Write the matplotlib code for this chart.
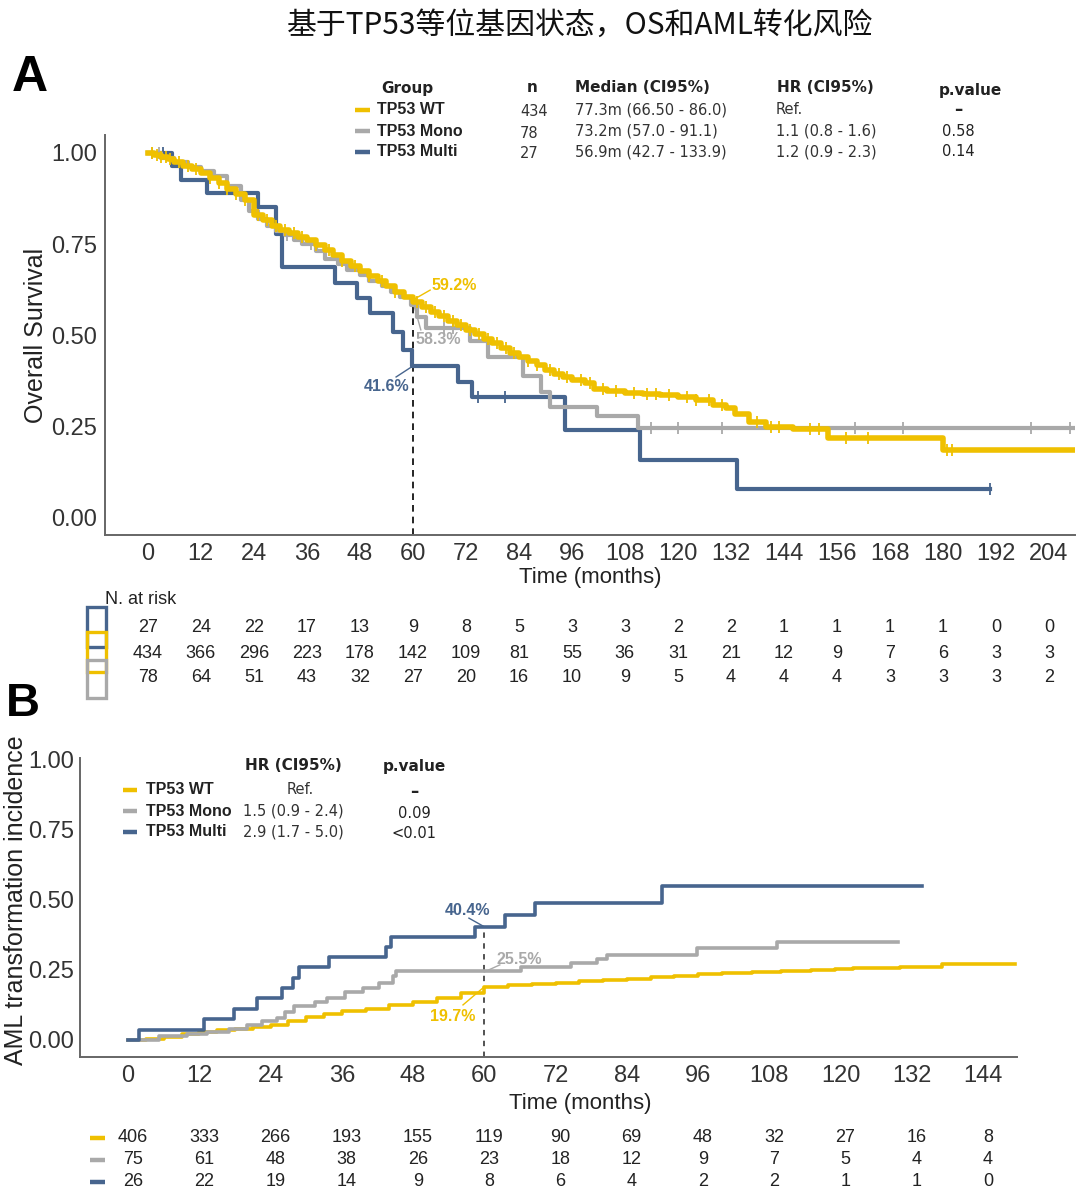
import numpy as np
import matplotlib
matplotlib.use("Agg")
import matplotlib.pyplot as plt
from matplotlib import transforms
from matplotlib.patches import Rectangle

W, H = 1080, 1201
YEL, GRY, BLU = '#EFC000', '#A9A9A9', '#47658E'
SANS = 'Liberation Sans'

title = '基于TP53等位基因状态，OS和AML转化风险'
groups = ['TP53 WT', 'TP53 Mono', 'TP53 Multi']

# ---------- panel A : overall survival (Kaplan-Meier)
os_wt_t = [0, 1.5, 3, 4.5, 6, 8, 10, 12, 14, 16, 18, 20, 22, 24, 26, 28, 30, 32, 34, 36,
           38, 40, 42, 44, 46, 48, 50, 52, 54, 56, 58, 60, 62, 64, 66, 68, 70, 72, 74, 76,
           78, 80, 82, 84, 86, 88, 90, 92, 94, 96, 99, 101, 104, 108, 112, 116, 120, 124,
           128, 131, 133, 136, 140, 146, 154, 165, 172, 180, 210]
os_wt_s = [1.0, .995, .99, .982, .975, .965, .955, .945, .932, .918, .902, .886, .87, .83,
           .815, .80, .79, .78, .77, .76, .748, .735, .72, .705, .69, .675, .662, .648, .635,
           .62, .606, .592, .578, .565, .553, .54, .528, .515, .503, .49, .478, .465, .452,
           .44, .43, .418, .405, .395, .385, .378, .37, .352, .347, .343, .339, .336, .332,
           .322, .31, .30, .285, .262, .25, .244, .22, .219, .218, .186, .186]
os_mono_t = [0, 3, 6, 9, 12, 15, 18, 21, 23, 25, 27, 29, 31, 33, 35, 38, 40, 43, 45, 48, 50,
             53, 55, 57, 59.5, 61, 63, 73, 77, 85, 89, 91, 101.6, 111, 210]
os_mono_s = [1.0, .987, .975, .962, .95, .937, .91, .87, .84, .82, .80, .787, .775, .762,
             .75, .73, .71, .695, .68, .665, .65, .635, .62, .605, .583, .55, .52, .485, .44,
             .39, .345, .305, .28, .245, .245]
os_multi_t = [0, 5.4, 7.6, 13.3, 25, 29, 30.3, 42.4, 47.3, 50.3, 55.5, 57.8, 59.7, 70.2,
              73.4, 94.5, 111.5, 133.4, 190.6]
os_multi_s = [1.0, .963, .926, .889, .852, .778, .688, .644, .603, .562, .51, .46, .416,
              .372, .33, .241, .159, .079, .079]

cens_wt = [1, 2, 3, 4, 5, 7, 9, 11, 14, 16, 18, 20, 22, 25, 27, 29, 31, 33, 35, 38, 41, 44,
           47, 50, 53, 56, 61, 63, 65, 67, 69, 71, 73, 75, 77, 79, 81, 83, 86, 88, 91, 93,
           95, 98, 100, 103, 106, 110, 113, 115, 118, 122, 124, 127, 130, 138, 141, 143,
           150, 152, 158, 163, 181, 182]
cens_mono = [1, 2.5, 31.5, 37, 67, 69, 114, 120, 130, 160, 171, 200, 208.7]
cens_multi = [3.5, 74.7, 80.8, 91, 190.6]

risk_times_a = list(range(0, 205, 12))
risk_multi_a = [27, 24, 22, 17, 13, 9, 8, 5, 3, 3, 2, 2, 1, 1, 1, 1, 0, 0]
risk_wt_a = [434, 366, 296, 223, 178, 142, 109, 81, 55, 36, 31, 21, 12, 9, 7, 6, 3, 3]
risk_mono_a = [78, 64, 51, 43, 32, 27, 20, 16, 10, 9, 5, 4, 4, 4, 3, 3, 3, 2]

tab_a_n = ['434', '78', '27']
tab_a_median = ['77.3m (66.50 - 86.0)', '73.2m (57.0 - 91.1)', '56.9m (42.7 - 133.9)']
tab_a_hr = ['Ref.', '1.1 (0.8 - 1.6)', '1.2 (0.9 - 2.3)']
tab_a_p = ['–', '0.58', '0.14']

# ---------- panel B : cumulative incidence of AML transformation
cif_wt_t = [0, 3, 6, 9, 12, 15, 18, 21, 24, 27, 30, 33, 36, 40, 44, 48, 52, 56, 60, 64, 68,
            72, 76, 80, 84, 88, 92, 96, 100, 105, 110, 115, 119, 122, 130, 137, 149.3]
cif_wt_c = [0, .005, .012, .02, .027, .034, .04, .047, .055, .068, .082, .093, .102, .112,
            .124, .137, .151, .168, .19, .196, .201, .205, .209, .213, .217, .224, .23, .236,
            .24, .243, .246, .249, .252, .258, .261, .271, .271]
cif_mono_t = [0, 5.2, 10, 13.3, 17, 20, 22.5, 25, 26.5, 28, 31.4, 33.5, 36.5, 39.5, 42.2,
              44.6, 45.2, 66.2, 74.6, 79, 80.6, 95.8, 109.3, 129.7]
cif_mono_c = [0, .013, .02, .027, .04, .053, .067, .08, .1, .12, .135, .148, .17, .187, .205,
              .228, .245, .26, .275, .29, .305, .33, .35, .35]
cif_multi_t = [0, 1.9, 12.7, 17.8, 21.7, 25.9, 27.8, 28.7, 33.8, 43.4, 44.3, 58.4, 63.5,
               68.6, 89.9, 133.7]
cif_multi_c = [0, .037, .074, .111, .148, .185, .222, .259, .296, .333, .367, .404, .447,
               .49, .55, .55]

risk_times_b = list(range(0, 145, 12))
risk_wt_b = [406, 333, 266, 193, 155, 119, 90, 69, 48, 32, 27, 16, 8]
risk_mono_b = [75, 61, 48, 38, 26, 23, 18, 12, 9, 7, 5, 4, 4]
risk_multi_b = [26, 22, 19, 14, 9, 8, 6, 4, 2, 2, 1, 1, 0]

tab_b_hr = ['Ref.', '1.5 (0.9 - 2.4)', '2.9 (1.7 - 5.0)']
tab_b_p = ['–', '0.09', '<0.01']


def step_at(tt, ss, x):
    i = np.searchsorted(tt, x, side='right') - 1
    return np.asarray(ss)[i]


def px_axes(fig, l, t, r, b):
    return fig.add_axes([l / W, 1 - b / H, (r - l) / W, (b - t) / H])


def style(ax, fs):
    for s in ['top', 'right']:
        ax.spines[s].set_visible(False)
    for s in ['left', 'bottom']:
        ax.spines[s].set_color('#666666')
        ax.spines[s].set_linewidth(1.4)
    ax.tick_params(length=0, labelsize=fs, colors='#333333', pad=6)
    for lab in ax.get_xticklabels() + ax.get_yticklabels():
        lab.set_family(SANS)


fig = plt.figure(figsize=(W / 100, H / 100), dpi=100)
ov = fig.add_axes([0, 0, 1, 1], zorder=5)
ov.set_xlim(0, W)
ov.set_ylim(H, 0)
ov.axis('off')
ov.patch.set_alpha(0)

ov.text(580, 25, title, ha='center', va='center', fontsize=21.5,
        family=['Noto Sans CJK SC', 'DejaVu Sans'], color='#111111')

# ================= panel A
axA = px_axes(fig, 105, 135, 1075, 535)
axA.set_xlim(-9.7, 209.9)
axA.set_ylim(-0.047, 1.049)
axA.set_xticks(risk_times_a)
axA.set_yticks([0, .25, .5, .75, 1.0])
axA.set_yticklabels(['0.00', '0.25', '0.50', '0.75', '1.00'])
style(axA, 17)

axA.plot([60, 60], [-0.047, 0.592], ls=(0, (4, 3)), color='black', lw=1.2, zorder=1)
for tt, ss, cc, ce, lw, z in [(os_multi_t, os_multi_s, BLU, cens_multi, 3.0, 2),
                              (os_mono_t, os_mono_s, GRY, cens_mono, 3.0, 3),
                              (os_wt_t, os_wt_s, YEL, cens_wt, 4.0, 4)]:
    axA.step(tt, ss, where='post', color=cc, lw=lw, zorder=z)
    axA.plot(ce, step_at(tt, ss, ce), ls='none', marker='|', ms=8, mew=1.3, color=cc, zorder=z)

axA.plot([60, 63.9], [0.597, 0.624], color=YEL, lw=1)
axA.text(64.3, 0.636, '59.2%', color=YEL, fontsize=11.5, weight='bold', family=SANS, va='center')
axA.plot([60.3, 61.8], [0.58, 0.515], color=GRY, lw=1)
axA.text(60.5, 0.488, '58.3%', color=GRY, fontsize=11.5, weight='bold', family=SANS, va='center')
axA.plot([60, 56.2], [0.416, 0.386], color=BLU, lw=1)
axA.text(59.3, 0.359, '41.6%', color=BLU, fontsize=11.5, weight='bold', family=SANS,
         va='center', ha='right')

ov.text(30, 78, 'A', fontsize=36, weight='bold', family=SANS, ha='center', va='center')
ov.text(590, 577, 'Time (months)', fontsize=16, family=SANS, ha='center', va='center', color='#222222')
ov.text(36, 335, 'Overall Survival', fontsize=18, family=SANS, ha='center', va='center',
        rotation=90, color='#222222')

# header table A
for x, txt, ha in [(407, 'Group', 'center'), (532, 'n', 'center'), (575, 'Median (CI95%)', 'left'),
                   (777, 'HR (CI95%)', 'left'), (970, 'p.value', 'center')]:
    ov.text(x, 88 if x < 900 else 91, txt, fontsize=11, weight='bold', family='DejaVu Sans',
            ha=ha, va='center', color='#222222')
for i, (g, c) in enumerate(zip(groups, [YEL, GRY, BLU])):
    y = 110 + 21 * i
    ov.plot([355, 370], [y, y], color=c, lw=3.2, solid_capstyle='butt')
    ov.text(377, y, g, fontsize=11.5, weight='bold', family=SANS, va='center', color='#222222')
    ov.text(520, y + 2, tab_a_n[i], fontsize=10.5, family='DejaVu Sans', va='center', color='#333333')
    ov.text(575, y, tab_a_median[i], fontsize=10.5, family='DejaVu Sans', va='center', color='#333333')
    ov.text(776, y, tab_a_hr[i], fontsize=10.5, family='DejaVu Sans', va='center', color='#333333')
    ov.text(958, y, tab_a_p[i], fontsize=12 if i == 0 else 10.5, family='DejaVu Sans',
            va='center', ha='center', color='#222222', weight='bold' if i == 0 else 'normal')

# risk table A
trA = transforms.blended_transform_factory(axA.transData, ov.transData)
ov.text(105, 600, 'N. at risk', fontsize=13, family=SANS, va='center', color='#222222')
for y, vals in [(628, risk_multi_a), (653, risk_wt_a), (678, risk_mono_a)]:
    for t, v in zip(risk_times_a, vals):
        ov.text(t, y, str(v), transform=trA, fontsize=13, family=SANS, ha='center',
                va='center', color='#222222')
for top, bot, c in [(607, 647, BLU), (632, 672, YEL), (660, 698, GRY)]:
    ov.add_patch(Rectangle((87, top), 19, bot - top, fill=False, ec=c, lw=2.4))

# ================= panel B
axB = px_axes(fig, 80, 758, 1017, 1057)
axB.set_xlim(-8.1, 149.7)
axB.set_ylim(-0.061, 1.007)
axB.set_xticks(risk_times_b)
axB.set_yticks([0, .25, .5, .75, 1.0])
axB.set_yticklabels(['0.00', '0.25', '0.50', '0.75', '1.00'])
style(axB, 17)
axB.tick_params(axis='y', pad=4)

axB.plot([60, 60], [-0.061, 0.404], ls=(0, (3, 3)), color='#444444', lw=1.3, zorder=1)
for tt, cc, col in [(cif_wt_t, cif_wt_c, YEL), (cif_mono_t, cif_mono_c, GRY),
                    (cif_multi_t, cif_multi_c, BLU)]:
    axB.step(tt, cc, where='post', color=col, lw=2.6)

axB.plot([57.4, 60], [0.435, 0.404], color=BLU, lw=1)
axB.text(53.4, 0.462, '40.4%', color=BLU, fontsize=11.5, weight='bold', family=SANS, va='center')
axB.plot([60, 62.6], [0.243, 0.268], color=GRY, lw=1)
axB.text(62.1, 0.286, '25.5%', color=GRY, fontsize=11.5, weight='bold', family=SANS, va='center')
axB.plot([60, 56.4], [0.19, 0.125], color=YEL, lw=1)
axB.text(50.9, 0.082, '19.7%', color=YEL, fontsize=11.5, weight='bold', family=SANS, va='center')

ov.text(23, 704, 'B', fontsize=34, weight='bold', family=SANS, ha='center', va='center')
ov.text(580, 1103, 'Time (months)', fontsize=16, family=SANS, ha='center', va='center', color='#222222')
ov.text(16, 900, 'AML transformation incidence', fontsize=18, family=SANS, ha='center',
        va='center', rotation=90, color='#222222')

# header table B
ov.text(245, 766, 'HR (CI95%)', fontsize=11, weight='bold', family='DejaVu Sans', va='center', color='#222222')
ov.text(414, 766, 'p.value', fontsize=11, weight='bold', family='DejaVu Sans', va='center',
        ha='center', color='#222222')
for i, (g, c) in enumerate(zip(groups, [YEL, GRY, BLU])):
    y = 790 + 21 * i
    ov.plot([123, 137], [y, y], color=c, lw=3.2, solid_capstyle='butt')
    ov.text(146, y, g, fontsize=11.5, weight='bold', family=SANS, va='center', color='#222222')
    if i == 0:
        ov.text(300, y, tab_b_hr[i], fontsize=10.5, family='DejaVu Sans', va='center',
                ha='center', color='#333333')
    else:
        ov.text(243, y, tab_b_hr[i], fontsize=10.5, family='DejaVu Sans', va='center', color='#333333')
    ov.text(414, y + 2, tab_b_p[i], fontsize=12 if i == 0 else 10.5, family='DejaVu Sans',
            va='center', ha='center', color='#222222', weight='bold' if i == 0 else 'normal')

# risk table B
trB = transforms.blended_transform_factory(axB.transData, ov.transData)
for y, vals, c in [(1138, risk_wt_b, YEL), (1160, risk_mono_b, GRY), (1182, risk_multi_b, BLU)]:
    ov.plot([90, 105], [y, y], color=c, lw=3.2, solid_capstyle='butt')
    for t, v in zip(risk_times_b, vals):
        ov.text(t + 0.8, y, str(v), transform=trB, fontsize=13, family=SANS, ha='center',
                va='center', color='#222222')

fig.savefig('out.png', dpi=100, facecolor='white')
